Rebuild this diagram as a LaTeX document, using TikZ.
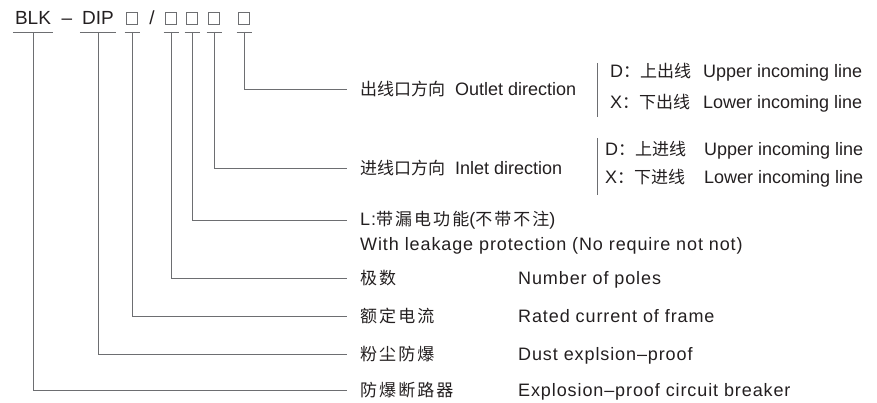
\documentclass[tikz,border=0pt]{standalone}
\usepackage{fontspec}
\setmainfont{Liberation Sans}
\newfontfamily\cjk{Noto Sans CJK SC}
\newfontfamily\cjkwide[LetterSpace=12]{Noto Sans CJK SC}
\newfontfamily\latwide[LetterSpace=5]{Liberation Sans}
\usepackage{tikz}
\usetikzlibrary{positioning, calc}
\definecolor{ink}{HTML}{231F20}
\definecolor{leadgray}{HTML}{6D6E71}
\newcommand{\zh}[1]{{\fontsize{17}{20}\selectfont\cjk #1}}
\newcommand{\zhw}[1]{{\fontsize{17}{20}\selectfont\cjkwide #1}}

\begin{document}
\begin{tikzpicture}[
		x=1pt, y=-1pt,
		every node/.style={text=ink, font=\fontsize{18}{22}\selectfont},
		code/.style={inner sep=0pt, anchor=base, text depth=7pt, font=\fontsize{19}{23}\selectfont},
		codebox/.style={draw=leadgray, line width=0.9pt, minimum width=11pt, minimum height=12pt, inner sep=0pt, outer xsep=0pt, outer ysep=8pt},
		desc/.style={anchor=west, inner xsep=13pt, inner ysep=0pt},
		eng/.style={anchor=base west, inner sep=0pt, font=\fontsize{18}{22}\selectfont\latwide},
		opt/.style={anchor=west, inner sep=0pt},
		lead/.style={draw=leadgray, line width=0.9pt}]
		\useasboundingbox (0,0) rectangle (877,403);
		
		% model code
		\node[code] (blk) at (33,25) {BLK};
		\node[code] (dash) at (67,25) {–};
		\node[code] (dip) at (98,25) {DIP};
		\node[codebox] (c1) at (132,18) {};
		\node[code] (slash) at (152,25) {/};
		\node[codebox] (c2) at (171,18) {};
		\node[codebox] (c3) at (192,18) {};
		\node[codebox] (c4) at (214,18) {};
		\node[codebox] (c5) at (244,18) {};
		\foreach \c in {blk,dip,c1,c2,c3,c4,c5}
			\draw[lead] ([xshift=-2pt]\c.south west) -- ([xshift=2pt]\c.south east);
		
		% meanings
		\node[desc] (dOutlet) at (347,89) {\zh{出线口方向}\hspace{10pt}Outlet direction};
		\node[desc] (dInlet) at (347,168) {\zh{进线口方向}\hspace{10pt}Inlet direction};
		\node[desc] (dLeak) at (347,220) {{\latwide L:}\zhw{带漏电功能}{\latwide (}\zhw{不带不注}{\latwide )}};
		\node[desc, anchor=base west, font=\fontsize{18}{22}\selectfont\latwide] (dLeakEn) at ($(dLeak.base west)+(0,25)$) {With leakage protection (No require not not)};
		\node[desc] (dPoles) at (347,278) {\zhw{极数}};
		\node[desc] (dCurrent) at (347,316) {\zhw{额定电流}};
		\node[desc] (dDust) at (347,354) {\zhw{粉尘防爆}};
		\node[desc] (dBreaker) at (347,390) {\zhw{防爆断路器}};
		
		\coordinate (ecol) at (518,0);
		\node[eng] (ePoles) at (dPoles.base -| ecol) {Number of poles};
		\node[eng] (eCurrent) at (dCurrent.base -| ecol) {Rated current of frame};
		\node[eng] (eDust) at (dDust.base -| ecol) {Dust explsion–proof};
		\node[eng] (eBreaker) at (dBreaker.base -| ecol) {Explosion–proof circuit breaker};
		
		% choices
		\node[opt] (oOutD) at (610,72) {\makebox[93pt][l]{D\zh{：上出线}}Upper incoming line};
		\node[opt] (oOutX) at (610,103) {\makebox[93pt][l]{X\zh{：下出线}}Lower incoming line};
		\node[opt] (oInD) at (605,150) {\makebox[99pt][l]{D\zh{：上进线}}Upper incoming line};
		\node[opt] (oInX) at (605,178) {\makebox[99pt][l]{X\zh{：下进线}}Lower incoming line};
		\draw[lead] ([xshift=-13pt]oOutD.north west) -- ([xshift=-13pt,yshift=-5pt]oOutX.south west);
		\draw[lead] ([xshift=-8pt,yshift=3pt]oInD.north west) -- ([xshift=-8pt,yshift=-8pt]oInX.south west);
		
		\draw[lead] (c5.south) |- (dOutlet.west);
		\draw[lead] (c4.south) |- (dInlet.west);
		\draw[lead] (c3.south) |- (dLeak.west);
		\draw[lead] (c2.south) |- (dPoles.west);
		\draw[lead] (c1.south) |- (dCurrent.west);
		\draw[lead] (dip.south) |- (dDust.west);
		\draw[lead] (blk.south) |- (dBreaker.west);
		
	\end{tikzpicture}
\end{document}
